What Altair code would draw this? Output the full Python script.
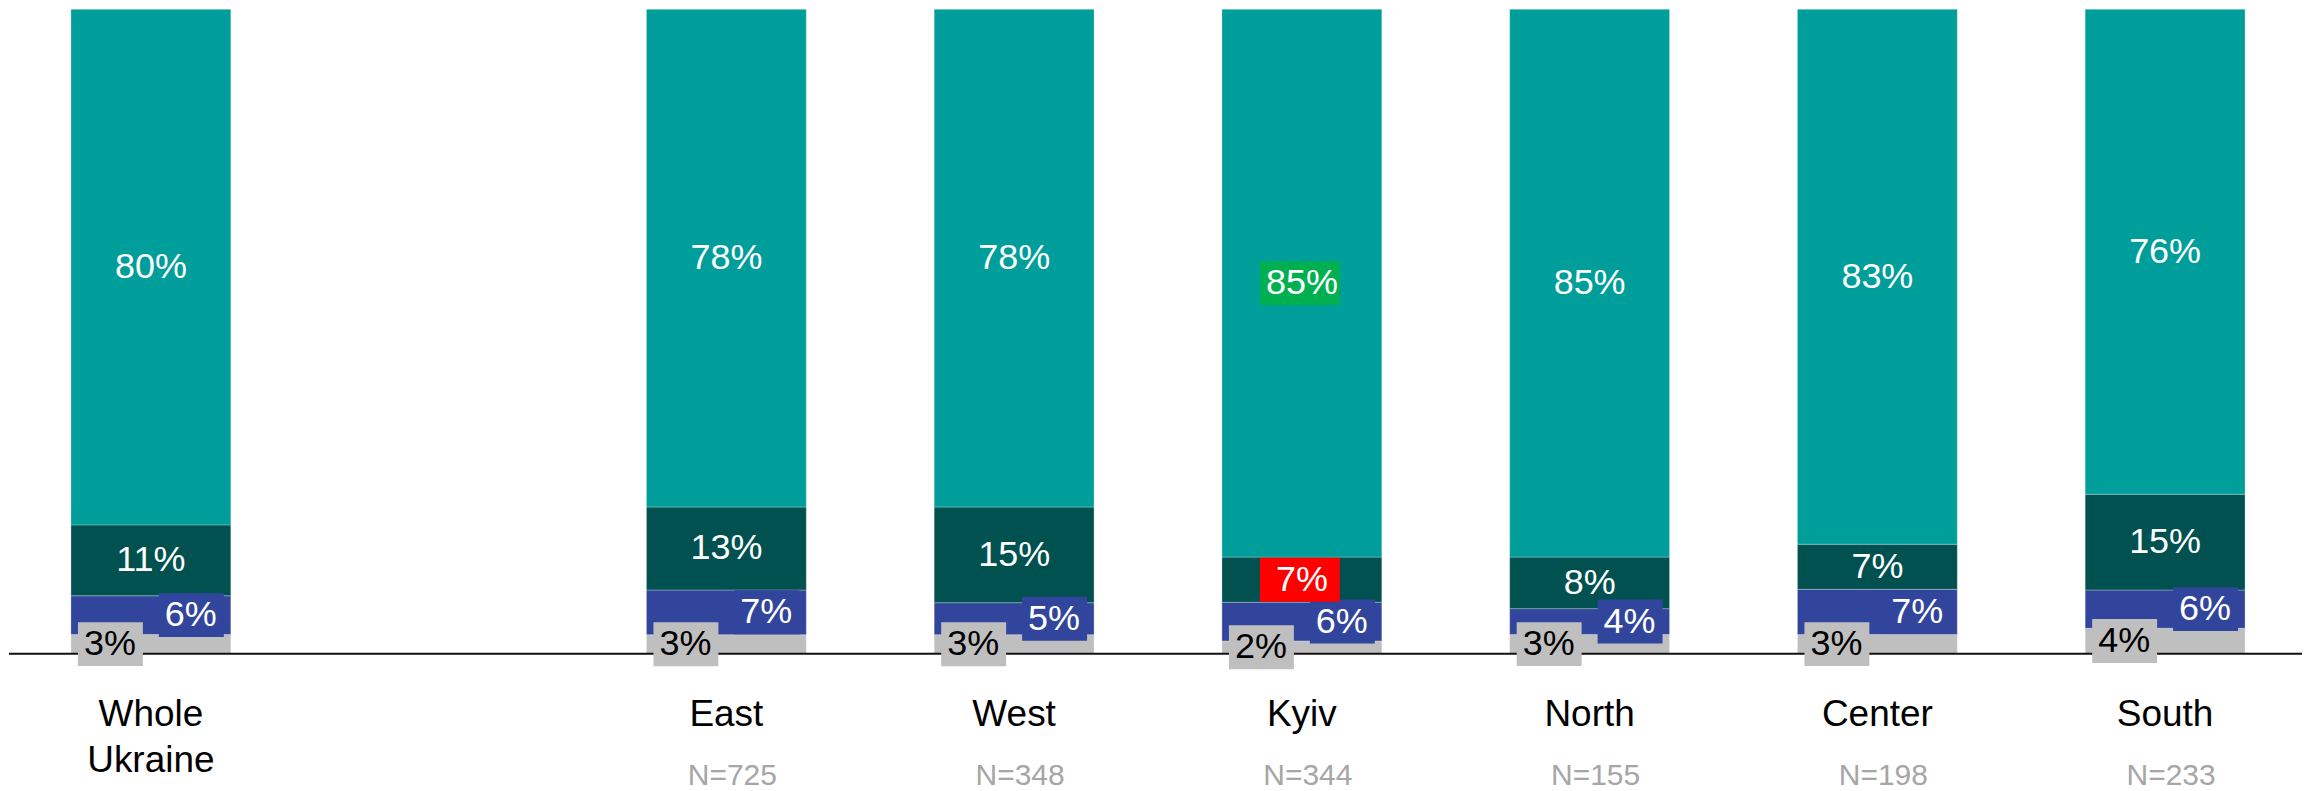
import altair as alt
import pandas as pd

# ---------------- data ----------------
slot_order = ["Whole Ukraine", " ", "East", "West", "Kyiv", "North", "Center", "South"]
regions = ["Whole Ukraine", "East", "West", "Kyiv", "North", "Center", "South"]
region_labels = ["Whole\nUkraine", "East", "West", "Kyiv", "North", "Center", "South"]
sample_sizes = ["", "N=725", "N=348", "N=344", "N=155", "N=198", "N=233"]

segments = ["Grey", "Blue", "Dark teal", "Teal"]  # bottom to top
grey_vals = [3, 3, 3, 2, 3, 3, 4]
blue_vals = [6, 7, 5, 6, 4, 7, 6]
dark_vals = [11, 13, 15, 7, 8, 7, 15]
teal_vals = [80, 78, 78, 85, 85, 83, 76]

seg_colors = ["#BFBFBF", "#31459C", "#005150", "#009E9A"]
highlights = {("Kyiv", "Teal"): "#00B050", ("Kyiv", "Dark teal"): "#FF0000"}

rows = []
for seg_i, (seg, vals) in enumerate(zip(segments, [grey_vals, blue_vals, dark_vals, teal_vals])):
    for reg, v in zip(regions, vals):
        rows.append({"region": reg, "segment": seg, "order": seg_i, "value": v,
                     "hl": highlights.get((reg, seg), "")})
df = pd.DataFrame(rows)

lab_df = pd.DataFrame({"region": regions, "name": region_labels, "n": sample_sizes})
zero_df = pd.DataFrame({"v": [0]})

FONT = "Liberation Sans"

xscale = alt.Scale(domain=slot_order, paddingInner=0.4444, paddingOuter=0.2066, align=0.521)
yscale = alt.Scale(domain=[0, 1], nice=False, zero=True)
X = alt.X("region:N", scale=xscale, axis=None)

base = (
    alt.Chart(df)
    .transform_joinaggregate(total="sum(value)", groupby=["region"])
    .transform_window(cum="sum(value)", groupby=["region"], sort=[alt.SortField("order")], frame=[None, 0])
    .transform_calculate(
        start="(datum.cum - datum.value) / datum.total",
        end="datum.cum / datum.total",
        mid="(datum.cum - datum.value / 2) / datum.total",
        label="datum.value + '%'",
    )
)

bars = base.mark_bar(stroke="white", strokeWidth=0.8, strokeOpacity=0.35).encode(
    x=X,
    y=alt.Y("start:Q", scale=yscale, axis=None),
    y2="end:Q",
    color=alt.Color("segment:N", scale=alt.Scale(domain=segments, range=seg_colors), legend=None),
)

baseline = alt.Chart(zero_df).mark_rule(color="#111111", strokeWidth=2).encode(
    y=alt.Y("v:Q", scale=yscale, axis=None)
)

box_kw = dict(yOffset=-22, y2Offset=22)

grey_box = base.transform_filter("datum.segment == 'Grey'").mark_bar(
    width=65, xOffset=-40.5, color="#BFBFBF", **box_kw
).encode(x=X, y=alt.Y("mid:Q", scale=yscale, axis=None), y2="mid:Q")

blue_box = base.transform_filter("datum.segment == 'Blue'").mark_bar(
    width=65, xOffset=40.5, color="#31459C", **box_kw
).encode(x=X, y=alt.Y("mid:Q", scale=yscale, axis=None), y2="mid:Q")

hl_box = base.transform_filter("datum.hl != ''").mark_bar(
    width=80, xOffset=-2, **box_kw
).encode(x=X, y=alt.Y("mid:Q", scale=yscale, axis=None), y2="mid:Q",
         color=alt.Color("hl:N", scale=None, legend=None))

txt_kw = dict(font=FONT, fontSize=36, baseline="middle")

grey_txt = base.transform_filter("datum.segment == 'Grey'").mark_text(
    align="left", dx=-67, color="black", **txt_kw
).encode(x=X, y=alt.Y("mid:Q", scale=yscale, axis=None), text="label:N")

blue_txt = base.transform_filter("datum.segment == 'Blue'").mark_text(
    align="right", dx=66, color="white", **txt_kw
).encode(x=X, y=alt.Y("mid:Q", scale=yscale, axis=None), text="label:N")

top_txt = base.transform_filter("datum.segment == 'Dark teal' || datum.segment == 'Teal'").mark_text(
    align="center", color="white", **txt_kw
).encode(x=X, y=alt.Y("mid:Q", scale=yscale, axis=None), text="label:N")

name_txt = alt.Chart(lab_df).mark_text(
    font=FONT, fontSize=37, color="black", align="center", baseline="alphabetic",
    dy=72, lineBreak="\n", lineHeight=46
).encode(x=X, y=alt.Y("zero:Q", scale=yscale, axis=None), text="name:N").transform_calculate(zero="0")

n_txt = alt.Chart(lab_df).mark_text(
    font=FONT, fontSize=30, color="#A6A6A6", align="center", baseline="alphabetic", dy=131, dx=6
).encode(x=X, y=alt.Y("zero:Q", scale=yscale, axis=None), text="n:N").transform_calculate(zero="0")

chart = (
    alt.layer(bars, baseline, grey_box, blue_box, hl_box, grey_txt, blue_txt, top_txt, name_txt, n_txt)
    .properties(width=2295, height=645, padding=0)
    .configure_view(stroke=None)
)

chart.save("out.html", embed_options={"renderer": "svg", "actions": False})
